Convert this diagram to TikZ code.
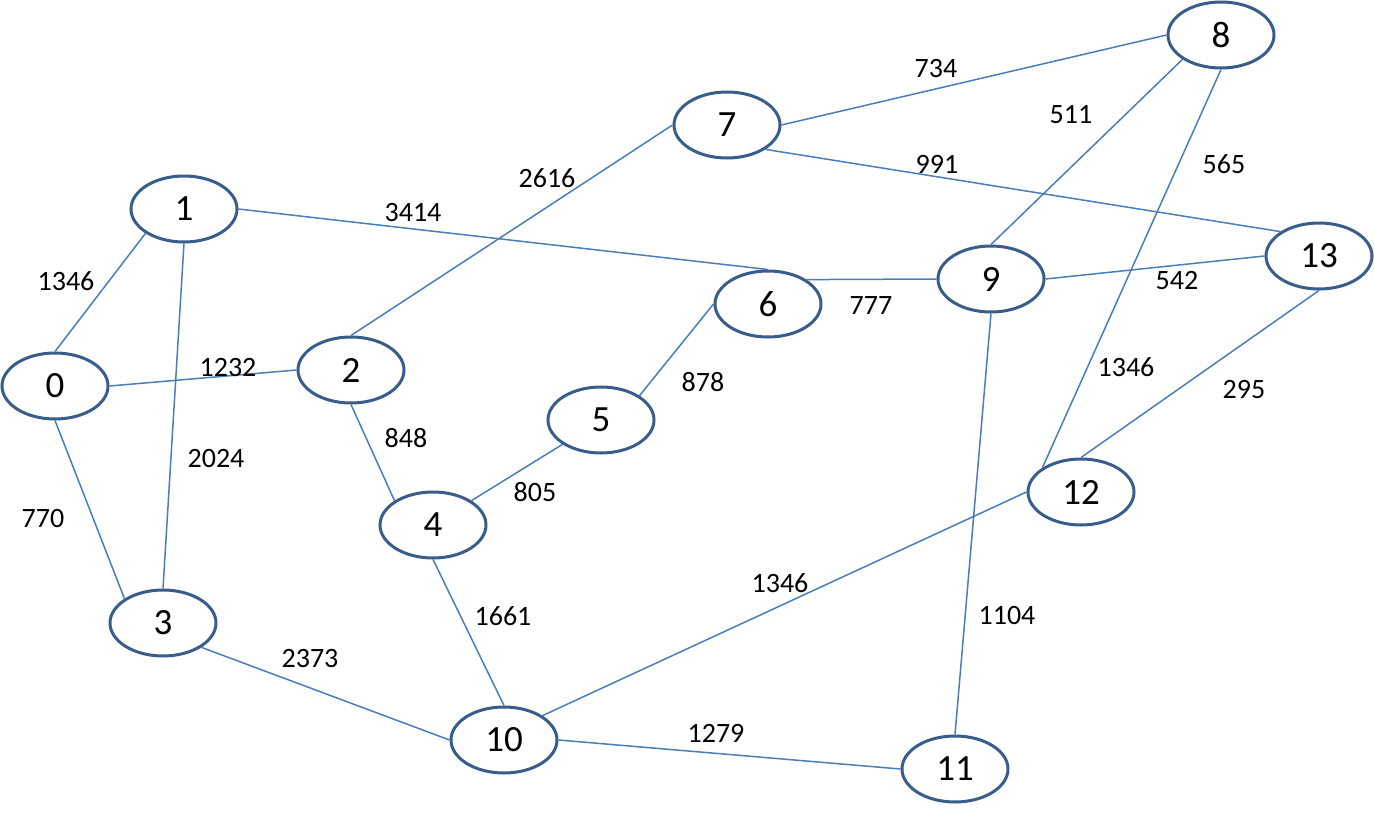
\documentclass[tikz,border=0pt]{standalone}
\usepackage{fontspec}
\setmainfont{Carlito}
\usetikzlibrary{shapes.geometric}
\definecolor{nodeborder}{HTML}{385D8A}
\definecolor{edgeblue}{HTML}{4A7EBB}
\tikzset{
  vtx/.style={ellipse, draw=nodeborder, line width=3pt, fill=white, minimum width=106pt, minimum height=66pt, inner sep=0pt, font=\fontsize{37}{37}\selectfont},
  edg/.style={draw=edgeblue, line width=1.5pt},
  wlab/.style={font=\fontsize{28}{28}\selectfont, inner sep=0pt}
}
\begin{document}
\begin{tikzpicture}[x=1pt,y=-1pt]
\useasboundingbox (0,0) rectangle (1374,816);
\fill[white] (0,0) rectangle (1374,816);
% nodes
\node[vtx] (n0) at (55,386) {0};
\node[vtx] (n1) at (184,209) {1};
\node[vtx] (n2) at (351,370) {2};
\node[vtx] (n3) at (163,623) {3};
\node[vtx] (n4) at (433,525) {4};
\node[vtx] (n5) at (601,420) {5};
\node[vtx] (n6) at (768,304) {6};
\node[vtx] (n7) at (727,125) {7};
\node[vtx] (n8) at (1221,35) {8};
\node[vtx] (n9) at (991,279) {9};
\node[vtx] (n10) at (504,740) {10};
\node[vtx] (n11) at (955,769) {11};
\node[vtx] (n12) at (1081,492) {12};
\node[vtx] (n13) at (1319,256) {13};
% edges
\draw[edg] (n0.north) -- (n1.south west);
\draw[edg] (n1.south) -- (n3.north);
\draw[edg] (n0.east) -- (n2.west);
\draw[edg] (n0.south) -- (n3.north west);
\draw[edg] (n1.east) -- (n6.north);
\draw[edg] (n2.north) -- (n7.west);
\draw[edg] (n2.south) -- (n4.north west);
\draw[edg] (n3.south east) -- (n10.west);
\draw[edg] (n4.north east) -- (n5.south west);
\draw[edg] (n4.south) -- (n10.north);
\draw[edg] (n5.north east) -- (n6.west);
\draw[edg] (n6.north east) -- (n9.west);
\draw[edg] (n7.east) -- (n8.west);
\draw[edg] (n7.south east) -- (n13.north west);
\draw[edg] (n8.south west) -- (n9.north);
\draw[edg] (n8.south) -- (n12.north west);
\draw[edg] (n9.east) -- (n13.west);
\draw[edg] (n9.south) -- (n11.north);
\draw[edg] (n10.north east) -- (n12.west);
\draw[edg] (n10.east) -- (n11.west);
\draw[edg] (n13.south) -- (n12.north);
% labels
\node[wlab] (l01) at (66,281) {1346};
\node[wlab] (l13) at (216,459) {2024};
\node[wlab] (l02) at (228,368) {1232};
\node[wlab] (l03) at (43,519) {770};
\node[wlab] (l16) at (413,213) {3414};
\node[wlab] (l27) at (547,178) {2616};
\node[wlab] (l24) at (406,438) {848};
\node[wlab] (l310) at (310,659) {2373};
\node[wlab] (l45) at (535,492) {805};
\node[wlab] (l410) at (503,616) {1661};
\node[wlab] (l56) at (703,382) {878};
\node[wlab] (l69) at (871,306) {777};
\node[wlab] (l78) at (936,69) {734};
\node[wlab] (l713) at (937,164) {991};
\node[wlab] (l89) at (1071,115) {511};
\node[wlab] (l812) at (1224,164) {565};
\node[wlab] (l812b) at (1126,367) {1346};
\node[wlab] (l913) at (1177,281) {542};
\node[wlab] (l911) at (1007,616) {1104};
\node[wlab] (l1012) at (780,583) {1346};
\node[wlab] (l1011) at (716,733) {1279};
\node[wlab] (l1312) at (1244,390) {295};
\end{tikzpicture}
\end{document}
